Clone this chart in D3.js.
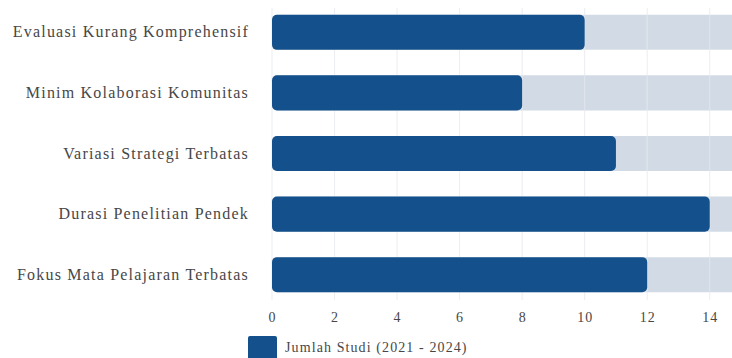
<!DOCTYPE html>
<html>
<head>
<meta charset="utf-8">
<script src="https://cdn.jsdelivr.net/npm/d3@7"></script>
<style>
  html, body { margin: 0; padding: 0; background: #ffffff; }
  svg { display: block; }
</style>
</head>
<body>
<svg id="chart" width="732" height="358"></svg>
<script>
// Limitations found in studies, 2021 - 2024
const categories = [
  "Evaluasi Kurang Komprehensif",
  "Minim Kolaborasi Komunitas",
  "Variasi Strategi Terbatas",
  "Durasi Penelitian Pendek",
  "Fokus Mata Pelajaran Terbatas"
];
const studyCounts = [10, 8, 11, 14, 12];
const trackMax = 15;
const tickValues = [0, 2, 4, 6, 8, 10, 12, 14];
const seriesName = "Jumlah Studi (2021 - 2024)";

const serif = '"Liberation Serif"';
const textColor = "#474747";
const svg = d3.select("#chart");

const x = d3.scaleLinear().domain([0, trackMax]).range([272, 741]);
const y = d3.scaleBand()
  .domain(categories)
  .range([2, 305])
  .paddingInner(0.42)
  .paddingOuter(0.21);

// background tracks
svg.append("g")
  .selectAll("rect")
  .data(categories)
  .join("rect")
  .attr("x", x(0))
  .attr("y", d => y(d))
  .attr("width", x(trackMax) - x(0))
  .attr("height", y.bandwidth())
  .attr("rx", 5)
  .attr("fill", "#d2dbe5");

// vertical grid, faint over the tracks
svg.append("g")
  .selectAll("line")
  .data(tickValues)
  .join("line")
  .attr("x1", d => x(d)).attr("x2", d => x(d))
  .attr("y1", 8).attr("y2", 300)
  .attr("stroke", "#e6e9ee")
  .attr("stroke-opacity", 0.8)
  .attr("stroke-width", 1);

// value bars
svg.append("g")
  .selectAll("rect")
  .data(categories.map((c, i) => ({ c, v: studyCounts[i] })))
  .join("rect")
  .attr("x", x(0))
  .attr("y", d => y(d.c))
  .attr("width", d => x(d.v) - x(0))
  .attr("height", y.bandwidth())
  .attr("rx", 5)
  .attr("fill", "#14508b");

// category labels
const yAxis = d3.axisLeft(y).tickSize(0).tickPadding(0);
const gy = svg.append("g")
  .attr("transform", `translate(${x(0) - 23},0)`)
  .call(yAxis)
  .attr("font-family", null)
  .style("font-family", serif);
gy.select(".domain").remove();
gy.selectAll("text")
  .style("font-family", serif)
  .style("font-size", "16px")
  .style("letter-spacing", "1.2px")
  .attr("fill", textColor);

// value axis
const xAxis = d3.axisBottom(x).tickValues(tickValues).tickSize(0).tickPadding(0);
const gx = svg.append("g")
  .attr("transform", "translate(0,312)")
  .call(xAxis)
  .attr("font-family", null)
  .style("font-family", serif);
gx.select(".domain").remove();
gx.selectAll("text")
  .style("font-family", serif)
  .style("font-size", "14px")
  .style("letter-spacing", "1px")
  .attr("fill", textColor);

// legend
const legend = svg.append("g").attr("transform", "translate(248,336)");
legend.append("rect")
  .attr("width", 29).attr("height", 24)
  .attr("rx", 2)
  .attr("fill", "#14508b");
legend.append("text")
  .attr("x", 37).attr("y", 16)
  .style("font-family", serif)
  .style("font-size", "14px")
  .style("letter-spacing", "1.1px")
  .attr("fill", textColor)
  .text(seriesName);
</script>
</body>
</html>
